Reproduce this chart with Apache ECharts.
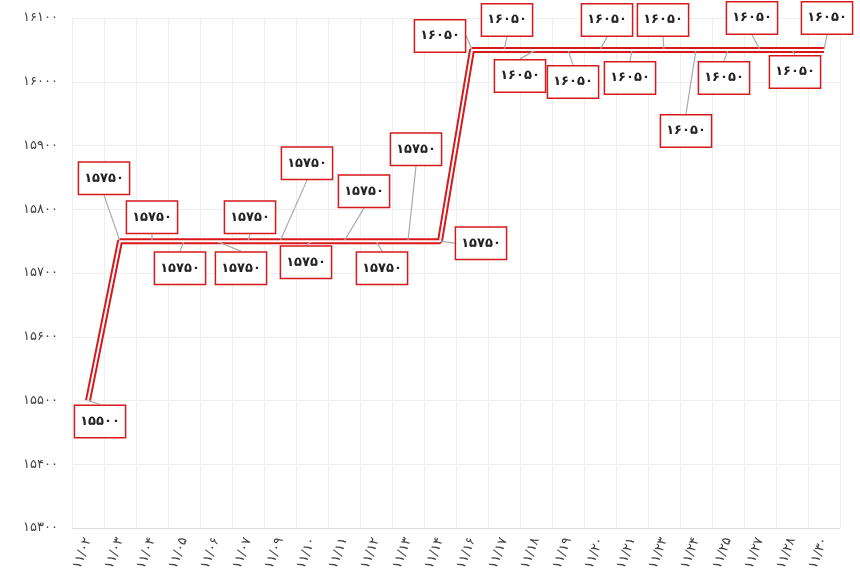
<!DOCTYPE html><html><head><meta charset="utf-8"><script src="https://cdn.jsdelivr.net/npm/echarts@6/dist/echarts.min.js"></script>
<style>html,body{margin:0;background:#fff}#c{width:860px;height:587px}</style></head><body><div id="c"></div><script>
const categories=['11/02','11/03','11/04','11/05','11/06','11/07','11/09','11/10','11/11','11/12','11/13','11/14','11/16','11/17','11/18','11/19','11/20','11/21','11/23','11/24','11/25','11/27','11/28','11/30'];
const prices=[15500,15750,15750,15750,15750,15750,15750,15750,15750,15750,15750,15750,16050,16050,16050,16050,16050,16050,16050,16050,16050,16050,16050,16050];
const labelOffsets=[[12,21],[-16,-63],[0,-24],[-4,27],[25,27],[2,-24],[27,-78],[-6,21],[20,-50],[6,27],[8,-92],[41,2],[-32,-14],[3,-30],[-16,26],[5,32],[7,-30],[-2,28],[-1,-30],[-10,81],[-4,28],[-8,-32],[3,22],[3,-32]];
const fa=s=>String(s).replace(/\d/g,d=>'۰۱۲۳۴۵۶۷۸۹'[d]);
const chart=echarts.init(document.getElementById('c'));
chart.setOption({
 animation:false,
 grid:{left:72,right:20,top:18,bottom:59},
 xAxis:{type:'category',data:categories,boundaryGap:true,
  axisLine:{lineStyle:{color:'#ddd'}},axisTick:{show:false},
  splitLine:{show:true,lineStyle:{color:'#eee'}},
  axisLabel:{rotate:70,interval:0,color:'#444',fontSize:13,fontFamily:'DejaVu Sans',formatter:fa,margin:10}},
 yAxis:{type:'value',min:15300,max:16100,interval:100,
  axisLine:{show:false},axisTick:{show:false},
  splitLine:{lineStyle:{color:'#eee'}},
  axisLabel:{color:'#444',fontSize:13,fontFamily:'DejaVu Sans',formatter:fa,margin:14}},
 series:[
  {type:'line',data:prices,symbol:'circle',symbolSize:1,showSymbol:true,itemStyle:{color:'rgba(0,0,0,0)'},lineStyle:{color:'#d7191c',width:6},z:2,
   label:{show:true,position:'inside',formatter:p=>fa(p.value),color:'#222',fontWeight:'bold',fontSize:13,fontFamily:'DejaVu Sans',
    backgroundColor:'#fff',borderColor:'#d7191c',borderWidth:1.5,padding:[9,5]},
   labelLine:{show:true,lineStyle:{color:'#aaa',width:1.2}},
   labelLayout:p=>({dx:labelOffsets[p.dataIndex][0],dy:labelOffsets[p.dataIndex][1]})},
  {type:'line',data:prices,symbol:'none',lineStyle:{color:'#fff',width:2},z:3,silent:true}
 ]
});
</script></body></html>
